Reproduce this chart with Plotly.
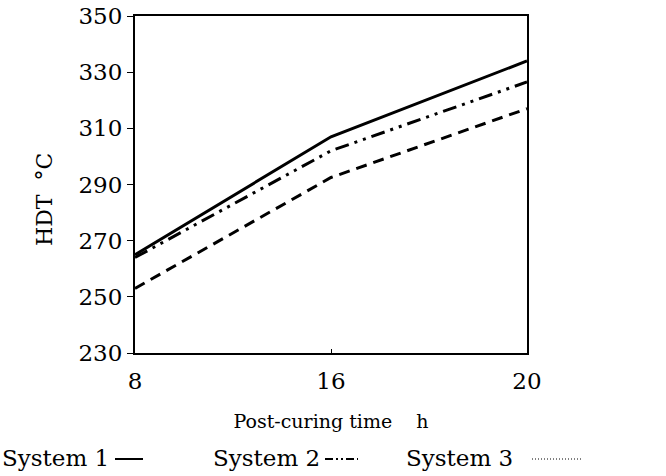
import plotly.graph_objects as go

# Data
post_curing_h = ["8", "16", "20"]
system1 = [265, 307, 334]
system2 = [264, 302, 326.5]
system3 = [253, 292.5, 317]
y_ticks = [230, 250, 270, 290, 310, 330, 350]
legend_names = ["System 1", "System 2", "System 3"]

FONT = "DejaVu Serif"

fig = go.Figure()
fig.add_trace(go.Scatter(x=post_curing_h, y=system1, mode="lines", name=legend_names[0],
                         line=dict(color="black", width=3), showlegend=False))
fig.add_trace(go.Scatter(x=post_curing_h, y=system2, mode="lines", name=legend_names[1],
                         line=dict(color="black", width=3, dash="14px,6px,3px,6px,3px,6px"), showlegend=False))
fig.add_trace(go.Scatter(x=post_curing_h, y=system3, mode="lines", name=legend_names[2],
                         line=dict(color="black", width=3, dash="11px,7px"), showlegend=False))

L, R, T, B = 135, 139, 16, 123
W, H = 666, 476
PW, PH = W - L - R, H - T - B

fig.update_layout(
    width=W, height=H,
    margin=dict(l=L, r=R, t=T, b=B, autoexpand=False),
    paper_bgcolor="white", plot_bgcolor="white",
    font=dict(family=FONT, color="black"),
    showlegend=False,
)
fig.update_xaxes(type="category", range=[0, 2], showgrid=False, zeroline=False, automargin=False,
                 showline=True, linecolor="black", linewidth=2, mirror=True,
                 ticks="inside", ticklen=4, tickcolor="black", ticklabelstandoff=6,
                 tickfont=dict(size=23, family=FONT),
                 title=dict(text="Post-curing time    h", font=dict(size=19, family=FONT), standoff=22))
fig.update_yaxes(range=[230, 350], tickvals=y_ticks, showgrid=False, zeroline=False, automargin=False,
                 showline=True, linecolor="black", linewidth=2, mirror=True,
                 ticks="outside", ticklen=6, tickcolor="black",
                 tickfont=dict(size=23, family=FONT))

def pxx(x): return (x - L) / PW
def pyy(y): return 1 - (y - T) / PH

# y-axis title as annotation
fig.add_annotation(xref="paper", yref="paper", x=pxx(44), y=pyy(200), text="HDT  °C",
                   textangle=-90, showarrow=False, xanchor="center", yanchor="middle",
                   font=dict(size=22, family=FONT, color="black"))

# Custom legend (text followed by line sample)
legend_items = [
    (0, 115, 143, "solid"),
    (211, 325, 358, "dashdot"),
    (404, 532, 582, "dot"),
]
dash_map = {"solid": "solid", "dashdot": "8px,3px,2px,3px,2px,3px", "dot": "1px,2px"}
for (tx, lx0, lx1, dash), name in zip(legend_items, legend_names):
    fig.add_annotation(xref="paper", yref="paper", x=pxx(tx), y=pyy(458),
                       text=name, showarrow=False, xanchor="left", yanchor="middle",
                       font=dict(size=23, family=FONT, color="black"))
    fig.add_shape(type="line", xref="paper", yref="paper",
                  x0=pxx(lx0), x1=pxx(lx1), y0=pyy(459), y1=pyy(459),
                  line=dict(color="black", width=1 if dash == "dot" else 2, dash=dash_map[dash]))

fig.write_html("out.html")
